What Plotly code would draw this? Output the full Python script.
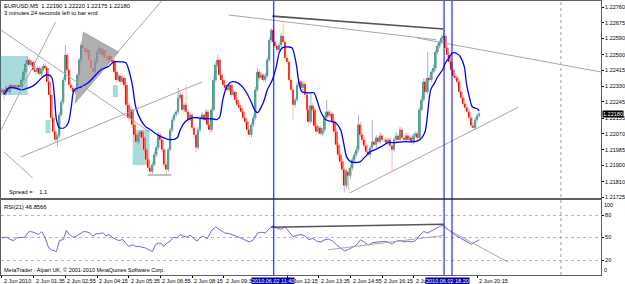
import plotly.graph_objects as go

# ---------------- data (prices stored as points above BASE) ----------------
BASE = 1.2
PT = 1e-5
OPEN0 = 2300
CLOSE = [
    2310, 2289, 2321, 2299, 2332, 2326, 2332, 2321, 2332, 2326,
    2364, 2408, 2451, 2473, 2446, 2462, 2419, 2408, 2429, 2397,
    2419, 2440, 2429, 2354, 2283, 2158, 2083, 2039, 2061, 2175,
    2245, 2364, 2500, 2419, 2337, 2321, 2299, 2310, 2392, 2473,
    2554, 2538, 2516, 2527, 2473, 2429, 2408, 2462, 2516, 2538,
    2500, 2527, 2484, 2473, 2494, 2473, 2462, 2408, 2364, 2386,
    2354, 2375, 2337, 2229, 2158, 2202, 2121, 2066, 2028, 2066,
    2083, 2050, 1985, 1931, 1887, 1866, 1904, 1958, 1996, 2066,
    2039, 1985, 1904, 1877, 1985, 2093, 2148, 2175, 2191, 2267,
    2283, 2202, 2229, 2191, 2148, 2175, 2104, 2066, 1996, 2093,
    2158, 2175, 2148, 2191, 2121, 2093, 2202, 2364, 2446, 2473,
    2392, 2364, 2337, 2321, 2310, 2337, 2283, 2299, 2256, 2229,
    2213, 2191, 2158, 2137, 2093, 2066, 2121, 2158, 2310, 2408,
    2375, 2392, 2364, 2386, 2473, 2581, 2635, 2570, 2549, 2527,
    2554, 2603, 2570, 2484, 2462, 2364, 2310, 2229, 2256, 2337,
    2354, 2321, 2343, 2283, 2202, 2137, 2224, 2202, 2115, 2083,
    2104, 2072, 2093, 2158, 2191, 2169, 2180, 2137, 2083, 2012,
    1958, 1920, 1877, 1790, 1866, 1844, 1887, 1931, 1958, 1985,
    2121, 2066, 2039, 2007, 1974, 1958, 1996, 2028, 2012, 2050,
    2028, 2061, 2039, 2039, 2023, 2039, 2007, 1985, 2039, 2061,
    2039, 2093, 2050, 2039, 2061, 2039, 2050, 2028, 2061, 2072,
    2050, 2202, 2256, 2354, 2299, 2375, 2364, 2408, 2429, 2516,
    2549, 2570, 2592, 2603, 2538, 2500, 2462, 2419, 2386, 2375,
    2354, 2299, 2267, 2234, 2213, 2191, 2158, 2115, 2104, 2148,
    2169, 2180,
]
UPWICK = [
    10, 8, 14, 6, 12, 8, 6, 10, 8, 12,
    10, 14, 16, 20, 12, 10, 8, 14, 10, 12,
    16, 14, 10, 8, 12, 10, 14, 8, 10, 16,
    12, 14, 54, 10, 8, 12, 10, 14, 8, 10,
    16, 12, 18, 10, 12, 8, 14, 20, 12, 10,
    14, 12, 10, 16, 8, 12, 10, 14, 8, 12,
    10, 14, 8, 12, 10, 16, 10, 8, 14, 12,
    10, 12, 8, 14, 10, 8, 12, 16, 10, 14,
    12, 10, 8, 14, 12, 10, 16, 12, 10, 54,
    14, 12, 10, 108, 12, 16, 10, 12, 14, 16,
    12, 14, 10, 16, 12, 10, 14, 20, 16, 27,
    12, 10, 14, 8, 12, 16, 10, 14, 8, 12,
    10, 14, 12, 10, 16, 8, 12, 14, 16, 20,
    14, 12, 10, 16, 14, 12, 10, 27, 14, 12,
    16, 15, 70, 12, 14, 10, 12, 14, 10, 16,
    12, 10, 14, 12, 16, 20, 70, 14, 10, 16,
    12, 14, 10, 16, 65, 12, 14, 10, 12, 16,
    14, 10, 16, 12, 14, 20, 16, 12, 14, 18,
    54, 16, 12, 14, 10, 16, 12, 120, 14, 16,
    12, 18, 14, 12, 16, 10, 14, 12, 16, 20,
    14, 16, 12, 18, 14, 16, 12, 14, 18, 12,
    14, 16, 20, 18, 16, 141, 14, 12, 16, 14,
    12, 10, 14, 32, 12, 16, 14, 12, 10, 14,
    12, 16, 10, 14, 12, 10, 14, 12, 16, 12,
    14, 10,
]
DNWICK = [
    10, 33, 12, 8, 14, 10, 6, 8, 12, 10,
    8, 12, 10, 14, 16, 12, 10, 14, 12, 10,
    12, 10, 14, 16, 20, 18, 14, 16, 41, 12,
    10, 14, 12, 16, 12, 14, 10, 12, 14, 10,
    12, 14, 10, 16, 12, 14, 10, 12, 16, 10,
    12, 14, 10, 12, 16, 10, 12, 14, 16, 12,
    14, 10, 12, 16, 20, 14, 18, 12, 16, 14,
    12, 14, 16, 20, 14, 16, 12, 10, 14, 12,
    16, 12, 14, 27, 12, 10, 14, 12, 10, 14,
    12, 10, 14, 12, 16, 10, 14, 16, 27, 12,
    14, 12, 16, 10, 14, 16, 12, 10, 14, 12,
    10, 14, 12, 16, 10, 12, 14, 10, 16, 12,
    14, 12, 10, 16, 14, 12, 16, 14, 10, 12,
    14, 10, 12, 14, 10, 12, 14, 16, 12, 10,
    14, 12, 10, 16, 14, 12, 10, 81, 14, 12,
    10, 14, 12, 16, 14, 12, 10, 14, 16, 12,
    14, 10, 16, 12, 14, 10, 12, 16, 14, 18,
    16, 20, 14, 38, 16, 80, 20, 16, 14, 12,
    16, 14, 12, 16, 14, 12, 16, 14, 12, 16,
    14, 12, 16, 14, 12, 16, 14, 119, 12, 14,
    16, 12, 14, 10, 16, 14, 12, 16, 14, 12,
    14, 12, 10, 14, 12, 10, 14, 12, 10, 14,
    12, 14, 10, 12, 14, 16, 12, 14, 10, 12,
    14, 12, 16, 14, 12, 10, 14, 12, 11, 11,
    12, 8,
]
# smoothed moving average (bar index, points)
MA_BAR = [1, 3.5, 6, 10, 13.5, 16.5, 20, 22.5, 25, 26.5, 27.5, 29, 31.5, 33.5, 35, 36.5,
          40, 43.5, 46.5, 50, 53.5, 56.5, 60, 62.5, 64, 66, 67.5, 70, 72.5, 75, 78.5, 81.5,
          85, 88.5, 90, 92.5, 96, 99, 102.5, 106, 108.5, 110, 111.5, 113.5, 116, 119, 121.5,
          123.5, 126, 127.5, 129, 131, 132.5, 134, 136.5, 138.5, 140, 141.5, 145, 146.5,
          148.5, 150, 151.5, 155, 157.5, 159, 161, 163.5, 168.5, 171, 172.5, 174, 176,
          178.5, 181, 183.5, 186, 188.5, 191.5, 195, 198.5, 203.5, 208.5, 211, 213.5,
          216.5, 218.5, 220, 222.5, 224, 226, 227.5, 230, 231.5, 233.5, 234.5, 236, 237.5,
          240, 241]
MA_VAL = [2283, 2321, 2321, 2310, 2321, 2337, 2375, 2392, 2381, 2272, 2148, 2104, 2104, 2131,
          2218, 2310, 2326, 2348, 2381, 2419, 2435, 2462, 2462, 2457, 2419, 2326, 2218, 2148,
          2110, 2093, 2066, 2050, 2039, 2050, 2093, 2137, 2158, 2158, 2153, 2153, 2148, 2164,
          2256, 2326, 2354, 2348, 2326, 2294, 2240, 2202, 2186, 2218, 2256, 2310, 2364, 2435,
          2511, 2538, 2543, 2538, 2457, 2348, 2299, 2294, 2294, 2256, 2191, 2148, 2131, 2093,
          2023, 1947, 1920, 1915, 1920, 1947, 1974, 1985, 2001, 2023, 2023, 2028, 2028, 2039,
          2077, 2310, 2348, 2381, 2419, 2457, 2489, 2511, 2505, 2489, 2435, 2348, 2272, 2218,
          2207, 2196]
# RSI(21)
RSI_BAR = [0, 2.5, 4, 6, 7.5, 10, 11.5, 13.5, 15, 16.5, 18.5, 20, 21.5, 23.5, 25, 27.5, 29,
           31, 32.5, 34, 36, 37.5, 39, 41, 42.5, 44, 46, 47.5, 49, 51, 52.5, 54, 56, 57.5, 59,
           61, 62.5, 64, 66, 67.5, 69, 71, 72.5, 74, 76, 77.5, 79, 81, 81.5, 83.5, 85, 86.5,
           88.5, 90, 91.5, 93.5, 95, 96.5, 98.5, 100, 101.5, 103.5, 106, 108, 110, 112.5, 115,
           117.5, 120, 122.5, 125, 127, 129, 131, 133, 135, 137, 139, 141, 143, 145, 147, 149,
           151, 153, 155, 157, 159, 161, 163, 165, 167, 169, 171, 173, 175, 177, 179, 181, 183,
           185, 187, 189, 191, 193, 195, 197, 199, 201, 203, 205, 207, 209, 211, 213, 215, 217,
           219, 221, 223, 225, 227, 229, 231, 233, 235, 237, 239, 241]
RSI_VAL = [49.6, 50.4, 47.3, 45.9, 49.6, 50.4, 50.4, 57.7, 57.7, 56.4, 54.1, 57.7, 51.8, 36.8,
           33.7, 31.3, 45.9, 47.3, 59.5, 54.1, 50.4, 51.8, 54.1, 57.7, 57.7, 56.4, 51.8, 55.0,
           55.0, 56.4, 51.8, 54.1, 49.6, 47.3, 45.9, 47.3, 42.8, 38.1, 40.5, 38.1, 38.1, 36.8,
           36.0, 33.7, 31.3, 40.5, 42.8, 41.4, 38.1, 42.8, 45.0, 50.4, 49.6, 54.1, 51.8, 50.4,
           53.1, 49.6, 45.0, 49.6, 52.0, 48.0, 60.0, 64.0, 60.0, 56.0, 55.0, 53.0, 50.0, 47.0,
           44.0, 47.0, 56.0, 57.0, 56.0, 62.0, 66.0, 62.0, 61.0, 64.0, 57.0, 51.0, 53.0, 54.0,
           52.0, 47.0, 49.0, 45.0, 44.0, 47.0, 48.0, 45.0, 40.0, 36.0, 32.0, 34.0, 37.0, 40.0,
           47.0, 43.0, 40.0, 43.0, 44.0, 44.0, 45.0, 44.0, 41.0, 45.0, 46.0, 44.0, 45.0, 44.0,
           46.0, 53.0, 58.0, 56.0, 59.0, 62.0, 65.0, 66.0, 61.0, 57.0, 53.0, 50.0, 47.0, 44.0,
           41.0, 44.0, 46.86]

# price axis labels
PRICE_TICKS = [2760, 2675, 2590, 2500, 2415, 2330, 2245, 2155, 2070, 1985, 1900, 1810, 1725]
LAST_PRICE = 2180
RSI_TICKS = [20, 50, 80]

# time axis labels (bar index, text) - labels hidden under the line labels omitted
TIME_BARS = [0, 16, 32, 48, 64, 80, 96, 112, 144, 160, 176, 192, 208, 240]
TIME_TEXT = ["2 Jun 2010", "2 Jun 01:35", "2 Jun 02:55", "2 Jun 04:15", "2 Jun 05:35",
             "2 Jun 06:55", "2 Jun 08:15", "2 Jun 09:35", "2 Jun 12:15",
             "2 Jun 13:35", "2 Jun 14:55", "2 Jun 16:15", "2 Jun 17:35",
             "2 Jun 20:15"]
VLINE_BARS = [137, 223, 227]
VLINE_LABELS = [(137, "2010.06.02 11:40"), (225, "2010.06.02 18:20")]
SHIFT_BAR = 282

# chart objects (bar index, points)
TREND = [(-0.5, 2092, 27, 2679), (-0.5, 2635, 74.5, 2081), (58.5, 2516, 81, 2798),
         (1, 1972, 15.5, 1831), (9.5, 1945, 101, 2353), (114.5, 2717, 219.5, 2582),
         (209.5, 2592, 302.5, 2407), (175.5, 1749, 261, 2217)]
TREND_HEAVY = [(136.5, 2711, 223, 2641)]
LOW_LINE = (73.5, 85.5, 1847)
TRIANGLE_BAR = [41, 59, 37]
TRIANGLE_VAL = [2624, 2516, 2238]
BOXES = [(-0.5, 13, 2282, 2494), (22, 24.5, 2075, 2146), (56, 58.5, 2271, 2336),
         (66, 74.5, 1901, 2092)]
RSI_TREND = [(164.5, 33.6, 223, 52.7), (223, 63.6, 255.5, 17.3)]
RSI_TREND_HEAVY = [(136, 63.6, 223, 67.7)]

# ---------------- build ----------------
def px(v):
    return BASE + v * PT

n = len(CLOSE)
opens = [OPEN0] + CLOSE[:-1]
idx = list(range(n))
highs = [max(o, c) + u for o, c, u in zip(opens, CLOSE, UPWICK)]
lows = [min(o, c) - d for o, c, d in zip(opens, CLOSE, DNWICK)]
up = [c >= o for o, c in zip(opens, CLOSE)]

FONT = "Liberation Sans"
fig = go.Figure()

# triangle (background object)
fig.add_trace(go.Scatter(x=TRIANGLE_BAR + [TRIANGLE_BAR[0]],
                         y=[px(v) for v in TRIANGLE_VAL + [TRIANGLE_VAL[0]]],
                         fill="toself", fillcolor="rgba(150,150,150,0.75)",
                         line=dict(color="rgba(120,120,120,0.8)", width=0.5),
                         mode="lines", hoverinfo="skip", showlegend=False))

# wicks
for is_up, col in [(True, "#8282E0"), (False, "#F8A080")]:
    wx, wy = [], []
    for i in idx:
        if up[i] == is_up:
            wx += [i, i, None]
            wy += [px(lows[i]), px(highs[i]), None]
    fig.add_trace(go.Scatter(x=wx, y=wy, mode="lines", line=dict(color=col, width=0.7),
                             hoverinfo="skip", showlegend=False))

# bodies
fig.add_trace(go.Bar(x=idx, y=[abs(c - o) * PT for o, c in zip(opens, CLOSE)],
                     base=[px(min(o, c)) for o, c in zip(opens, CLOSE)],
                     width=0.95,
                     marker=dict(color=["#3CB371" if u else "#FF0000" for u in up],
                                 line=dict(width=0)),
                     hoverinfo="skip", showlegend=False))

# moving average
fig.add_trace(go.Scatter(x=MA_BAR, y=[px(v) for v in MA_VAL], mode="lines",
                         line=dict(color="#0000FF", width=1.3, shape="spline", smoothing=0.8),
                         hoverinfo="skip", showlegend=False))

# RSI
fig.add_trace(go.Scatter(x=RSI_BAR, y=RSI_VAL, mode="lines", xaxis="x2", yaxis="y2",
                         line=dict(color="#5A5AD0", width=0.9),
                         hoverinfo="skip", showlegend=False))

shapes = []
for (x0, x1, y0, y1) in BOXES:
    shapes.append(dict(type="rect", xref="x", yref="y", x0=x0, x1=x1, y0=px(y0), y1=px(y1),
                       fillcolor="#A8DADA", line=dict(width=0), layer="below"))
for (x0, y0, x1, y1) in TREND:
    shapes.append(dict(type="line", xref="x", yref="y", x0=x0, y0=px(y0), x1=x1, y1=px(y1),
                       line=dict(color="#A8A8A8", width=1)))
for (x0, y0, x1, y1) in TREND_HEAVY:
    shapes.append(dict(type="line", xref="x", yref="y", x0=x0, y0=px(y0), x1=x1, y1=px(y1),
                       line=dict(color="#555555", width=1.6)))
shapes.append(dict(type="line", xref="x", yref="y", x0=LOW_LINE[0], x1=LOW_LINE[1],
                   y0=px(LOW_LINE[2]), y1=px(LOW_LINE[2]), line=dict(color="#808080", width=1)))
for (x0, y0, x1, y1) in RSI_TREND:
    shapes.append(dict(type="line", xref="x2", yref="y2", x0=x0, y0=y0, x1=x1, y1=y1,
                       line=dict(color="#A8A8A8", width=1)))
for (x0, y0, x1, y1) in RSI_TREND_HEAVY:
    shapes.append(dict(type="line", xref="x2", yref="y2", x0=x0, y0=y0, x1=x1, y1=y1,
                       line=dict(color="#555555", width=1.6)))
shapes.append(dict(type="line", xref="x", yref="paper", x0=SHIFT_BAR + 0.25, x1=SHIFT_BAR + 0.25,
                   y0=0, y1=1, line=dict(color="#A0A0A0", width=1, dash="dot")))
for b in VLINE_BARS:
    shapes.append(dict(type="line", xref="x", yref="paper", x0=b + 0.25, x1=b + 0.25, y0=0, y1=1,
                       line=dict(color="#0000FF", width=1)))

ann = []
def txt(x, y, t, xref="paper", yref="paper", xa="left", ya="top", size=5.8, color="#000000",
        bg=None, xs=0, ys=0):
    d = dict(x=x, y=y, xref=xref, yref=yref, text=t, showarrow=False, xanchor=xa, yanchor=ya,
             font=dict(family=FONT, size=size, color=color), xshift=xs, yshift=ys, borderpad=0)
    if bg:
        d["bgcolor"] = bg
    ann.append(d)

txt(0, 1, "EURUSD,M5  1.22190 1.22220 1.22175 1.22180", xs=2, ys=-1)
txt(0, 1, "3 minutes 24 seconds left to bar end", xs=2, ys=-8)
txt(0, px(1755), "Spread =    1.1", yref="y", ya="middle", xs=7)
txt(0, 100, "RSI(21) 46.8566", yref="y2", xs=2, ys=-3)
txt(0, 0, "MetaTrader - Alpari UK, © 2001-2010 MetaQuotes Software Corp.", yref="y2",
    ya="bottom", xs=2, ys=1, size=5.5)
for b, t in zip(TIME_BARS, TIME_TEXT):
    txt(b, 0, t, xref="x2", xs=1, ys=-2, size=5.5)
for b, t in VLINE_LABELS:
    txt(b, 0, t, xref="x2", xa="center", ys=-2, size=5.5, color="#FFFFFF", bg="#0000A0")
txt(1, px(LAST_PRICE), "1.22180", yref="y", ya="middle", xs=1, size=5.5,
    color="#FFFFFF", bg="#000000")
txt(1, 100, "100", yref="y2", ya="top", xs=2, ys=-1, size=5.5)
txt(1, 0, "0", yref="y2", ya="bottom", xs=2, ys=1, size=5.5)

axis_common = dict(showgrid=False, zeroline=False, showline=True, mirror=True,
                   linecolor="#606060", linewidth=1)
fig.update_layout(
    width=625, height=284, margin=dict(l=0, r=19, t=1, b=9),
    paper_bgcolor="#FFFFFF", plot_bgcolor="#FFFFFF", showlegend=False,
    barmode="overlay", font=dict(family=FONT, size=5.5, color="#000000"),
    xaxis=dict(domain=[0, 1], anchor="y", range=[-0.5, 302.5], showticklabels=False,
               ticks="", **axis_common),
    xaxis2=dict(domain=[0, 1], anchor="y2", range=[-0.5, 302.5], showticklabels=False,
                tickvals=TIME_BARS, ticks="outside", ticklen=2, tickcolor="#000000",
                **axis_common),
    yaxis=dict(domain=[0.281, 1], anchor="x", range=[px(1722), px(2793)], side="right",
               tickvals=[px(v) for v in PRICE_TICKS],
               ticktext=["%.5f" % px(v) for v in PRICE_TICKS],
               ticks="outside", ticklen=2, tickcolor="#000000",
               tickfont=dict(family=FONT, size=5.5), **axis_common),
    yaxis2=dict(domain=[0, 0.2737], anchor="x2", range=[0, 100], side="right",
                tickvals=RSI_TICKS, ticktext=[str(v) for v in RSI_TICKS],
                ticks="outside", ticklen=2, tickcolor="#000000",
                tickfont=dict(family=FONT, size=5.5),
                showline=True, mirror=True, linecolor="#606060", linewidth=1, zeroline=False,
                showgrid=True, gridcolor="#B8B8B8", griddash="dot", gridwidth=1),
    shapes=shapes, annotations=ann,
)
fig.write_html("out.html")
